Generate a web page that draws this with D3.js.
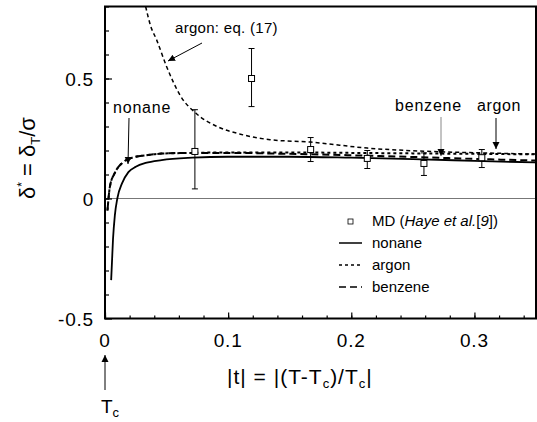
<!DOCTYPE html>
<html>
<head>
<meta charset="utf-8">
<script src="https://cdn.jsdelivr.net/npm/d3@7"></script>
<style>
  body { margin: 0; background: #fff; }
  svg text { font-family: "Liberation Sans", Arial, sans-serif; fill: #000; }
</style>
</head>
<body>
<div id="chart"></div>
<script>
// MD points (Haye et al.) with error bars
const mdT = [0.073, 0.119, 0.167, 0.213, 0.259, 0.306];
const mdDelta = [0.196, 0.50, 0.204, 0.167, 0.146, 0.17];
const mdLow = [0.04, 0.383, 0.154, 0.125, 0.096, 0.129];
const mdHigh = [0.37, 0.625, 0.254, 0.20, 0.19, 0.204];

// nonane (solid)
const nonaneT = [0.005, 0.0065, 0.008, 0.010, 0.014, 0.019, 0.025, 0.033, 0.046, 0.071, 0.1, 0.15, 0.2, 0.25, 0.3, 0.35];
const nonaneDelta = [-0.34, -0.17, -0.07, 0.0, 0.065, 0.11, 0.132, 0.148, 0.16, 0.17, 0.174, 0.174, 0.17, 0.164, 0.157, 0.15];

// argon (short dash)
const argonT = [0.002, 0.004, 0.008, 0.014, 0.022, 0.033, 0.046, 0.071, 0.1, 0.15, 0.2, 0.25, 0.3, 0.35];
const argonDelta = [-0.05, 0.05, 0.107, 0.148, 0.17, 0.18, 0.187, 0.19, 0.192, 0.192, 0.19, 0.188, 0.186, 0.184];

// benzene (long dash)
const benzeneT = [0.002, 0.004, 0.008, 0.014, 0.022, 0.033, 0.046, 0.071, 0.1, 0.15, 0.2, 0.25, 0.3, 0.35];
const benzeneDelta = [-0.05, 0.05, 0.107, 0.148, 0.17, 0.18, 0.187, 0.19, 0.19, 0.186, 0.18, 0.173, 0.165, 0.158];

// argon: eq. (17)
const eq17T = [0.033, 0.037, 0.042, 0.05, 0.061, 0.075, 0.091, 0.11, 0.134, 0.167, 0.213, 0.259, 0.306, 0.35];
const eq17Delta = [0.8, 0.72, 0.66, 0.55, 0.43, 0.35, 0.30, 0.268, 0.245, 0.235, 0.21, 0.197, 0.19, 0.185];

const xTicks = [0, 0.1, 0.2, 0.3];
const yTicks = [-0.5, 0, 0.5];
const xTickLabels = ["0", "0.1", "0.2", "0.3"];
const yTickLabels = ["-0.5", "0", "0.5"];

document.addEventListener("DOMContentLoaded", () => {
  const width = 537;
  const height = 422;

  const svg = d3.select("#chart")
    .append("svg")
    .attr("width", width)
    .attr("height", height);

  const x = d3.scaleLinear().domain([0, 0.35]).range([105, 536]);
  const y = d3.scaleLinear().domain([-0.5, 0.8]).range([318.5, 6.5]);

  // arrow head
  svg.append("defs").append("marker")
    .attr("id", "head")
    .attr("viewBox", "0 0 10 10")
    .attr("refX", 10).attr("refY", 5)
    .attr("markerWidth", 7).attr("markerHeight", 10)
    .attr("markerUnits", "userSpaceOnUse")
    .attr("orient", "auto")
    .append("path")
    .attr("d", "M0,0L10,5L0,10Z")
    .attr("fill", "#000");

  const plot = svg.append("g");

  // zero line
  plot.append("line")
    .attr("x1", x(0)).attr("x2", x(0.35))
    .attr("y1", y(0)).attr("y2", y(0))
    .attr("stroke", "#777").attr("stroke-width", 1);

  const line = d3.line()
    .x(d => x(d[0]))
    .y(d => y(d[1]))
    .curve(d3.curveMonotoneX);

  const curves = [
    { t: eq17T, v: eq17Delta, dash: "4,3", w: 1.5 },
    { t: argonT, v: argonDelta, dash: "3,3", w: 2 },
    { t: benzeneT, v: benzeneDelta, dash: "7,4", w: 2 },
    { t: nonaneT, v: nonaneDelta, dash: null, w: 1.8 }
  ];

  plot.append("clipPath").attr("id", "clip")
    .append("rect").attr("x", x(0)).attr("y", y(0.8))
    .attr("width", x(0.35) - x(0)).attr("height", y(-0.5) - y(0.8));

  curves.forEach(c => {
    plot.append("path")
      .datum(c.t.map((t, i) => [t, c.v[i]]))
      .attr("d", line)
      .attr("clip-path", "url(#clip)")
      .attr("fill", "none")
      .attr("stroke", "#000")
      .attr("stroke-width", c.w)
      .attr("stroke-dasharray", c.dash);
  });

  // MD error bars and squares
  const md = mdT.map((t, i) => ({ t, v: mdDelta[i], lo: mdLow[i], hi: mdHigh[i] }));
  const err = plot.selectAll(".err").data(md).enter().append("g").attr("class", "err")
    .attr("stroke", "#000").attr("stroke-width", 1);
  err.append("line").attr("x1", d => x(d.t)).attr("x2", d => x(d.t))
    .attr("y1", d => y(d.lo)).attr("y2", d => y(d.hi));
  err.append("line").attr("x1", d => x(d.t) - 3).attr("x2", d => x(d.t) + 3)
    .attr("y1", d => y(d.lo)).attr("y2", d => y(d.lo));
  err.append("line").attr("x1", d => x(d.t) - 3).attr("x2", d => x(d.t) + 3)
    .attr("y1", d => y(d.hi)).attr("y2", d => y(d.hi));
  err.append("rect").attr("x", d => x(d.t) - 3).attr("y", d => y(d.v) - 3)
    .attr("width", 6).attr("height", 6).attr("fill", "#fff");

  // axes with inward ticks
  svg.append("g").attr("transform", `translate(0,${y(-0.5)})`)
    .call(d3.axisBottom(x).tickValues(d3.range(0, 0.35, 0.02)).tickSize(-3).tickFormat(""))
    .call(g => g.select(".domain").remove());
  svg.append("g").attr("transform", `translate(0,${y(-0.5)})`)
    .call(d3.axisBottom(x).tickValues(xTicks).tickSize(-6).tickFormat(""))
    .call(g => g.select(".domain").remove());
  svg.append("g").attr("transform", `translate(${x(0)},0)`)
    .call(d3.axisLeft(y).tickValues(d3.range(-0.4, 0.8, 0.1)).tickSize(-4).tickFormat(""))
    .call(g => g.select(".domain").remove());
  svg.append("g").attr("transform", `translate(${x(0)},0)`)
    .call(d3.axisLeft(y).tickValues(yTicks).tickSize(-7).tickFormat(""))
    .call(g => g.select(".domain").remove());
  svg.selectAll(".tick line").attr("stroke-width", 1.2);

  // frame
  svg.append("rect")
    .attr("x", x(0)).attr("y", y(0.8))
    .attr("width", x(0.35) - x(0)).attr("height", y(-0.5) - y(0.8))
    .attr("fill", "none").attr("stroke", "#000").attr("stroke-width", 2);

  // tick labels
  svg.selectAll(".xl").data(xTicks).enter().append("text")
    .attr("x", d => x(d)).attr("y", 347)
    .attr("text-anchor", "middle").attr("font-size", 19).attr("letter-spacing", 0.8)
    .text((d, i) => xTickLabels[i]);
  svg.selectAll(".yl").data(yTicks).enter().append("text")
    .attr("x", 94).attr("y", d => y(d) + 7)
    .attr("text-anchor", "end").attr("font-size", 19).attr("letter-spacing", 0.8)
    .text((d, i) => yTickLabels[i]);

  // axis titles
  const xt = svg.append("text").attr("x", 227).attr("y", 384)
    .attr("font-size", 21).attr("letter-spacing", 1);
  xt.append("tspan").text("|t| = |(T-T");
  xt.append("tspan").attr("font-size", 13).attr("dy", 4).text("c");
  xt.append("tspan").attr("dy", -4).text(")/T");
  xt.append("tspan").attr("font-size", 13).attr("dy", 4).text("c");
  xt.append("tspan").attr("dy", -4).text("|");

  const yt = svg.append("text")
    .attr("transform", "translate(35,158) rotate(-90)")
    .attr("text-anchor", "middle").attr("font-size", 22);
  yt.append("tspan").text("δ");
  yt.append("tspan").attr("font-size", 12).attr("dy", -9).text("*");
  yt.append("tspan").attr("dy", 9).text(" = δ");
  yt.append("tspan").attr("font-size", 13).attr("dy", 5).text("T");
  yt.append("tspan").attr("dy", -5).text("/σ");

  // annotations
  const arrow = (x1, y1, x2, y2, color) => svg.append("line")
    .attr("x1", x1).attr("y1", y1).attr("x2", x2).attr("y2", y2)
    .attr("stroke", color || "#000").attr("stroke-width", 1)
    .attr("marker-end", "url(#head)");

  svg.append("text").attr("x", 175).attr("y", 33).attr("font-size", 15).attr("letter-spacing", 0.3)
    .text("argon: eq. (17)");
  arrow(202, 43, 168, 61);
  svg.append("text").attr("x", 113).attr("y", 113).attr("font-size", 16).attr("letter-spacing", 0.8)
    .text("nonane");
  arrow(129, 118, 128, 164);
  svg.append("text").attr("x", 395).attr("y", 111).attr("font-size", 16).attr("letter-spacing", 0.8)
    .text("benzene");
  arrow(441, 117, 441, 156, "#888");
  svg.append("text").attr("x", 477).attr("y", 111).attr("font-size", 16).attr("letter-spacing", 0.6)
    .text("argon");
  arrow(496, 118, 496, 149);

  // T_c marker below the axis
  arrow(105, 390, 105, 355);
  const tc = svg.append("text").attr("x", 101).attr("y", 413).attr("font-size", 19);
  tc.append("tspan").text("T");
  tc.append("tspan").attr("font-size", 13).attr("dy", 4).text("c");

  // legend
  const lg = svg.append("g");
  lg.append("rect").attr("x", 348).attr("y", 219).attr("width", 5).attr("height", 5)
    .attr("fill", "#fff").attr("stroke", "#000").attr("stroke-width", 0.8);
  const lt = lg.append("text").attr("x", 372).attr("y", 226).attr("font-size", 15);
  lt.append("tspan").text("MD (");
  lt.append("tspan").attr("font-style", "italic").text("Haye et al.");
  lt.append("tspan").text("[");
  lt.append("tspan").attr("font-style", "italic").text("9");
  lt.append("tspan").text("])");

  const legendItems = [
    { name: "nonane", dash: null },
    { name: "argon", dash: "3,3" },
    { name: "benzene", dash: "7,4" }
  ];
  legendItems.forEach((d, i) => {
    const yy = 243 + i * 22;
    lg.append("line").attr("x1", 339).attr("x2", 362).attr("y1", yy).attr("y2", yy)
      .attr("stroke", "#000").attr("stroke-width", 1.5).attr("stroke-dasharray", d.dash);
    lg.append("text").attr("x", 372).attr("y", yy + 5).attr("font-size", 15).text(d.name);
  });
});
</script>
</body>
</html>
